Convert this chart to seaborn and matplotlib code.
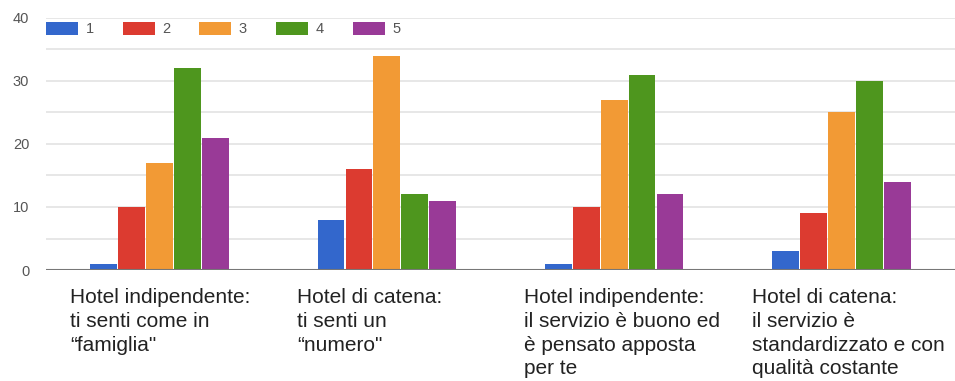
import matplotlib
matplotlib.use("Agg")
import matplotlib.pyplot as plt
import seaborn as sns
import pandas as pd

categories = [
    "Hotel indipendente:\nti senti come in\n\u201cfamiglia\"",
    "Hotel di catena:\nti senti un\n\u201cnumero\"",
    "Hotel indipendente:\nil servizio è buono ed\nè pensato apposta\nper te",
    "Hotel di catena:\nil servizio è\nstandardizzato e con\nqualità costante",
]
ratings = ["1", "2", "3", "4", "5"]
values_1 = [1, 8, 1, 3]
values_2 = [10, 16, 10, 9]
values_3 = [17, 34, 27, 25]
values_4 = [32, 12, 31, 30]
values_5 = [21, 11, 12, 14]
colors = ["#3367CC", "#DC3B30", "#F29A35", "#4E961E", "#993A97"]

rows = []
for r, vals in zip(ratings, [values_1, values_2, values_3, values_4, values_5]):
    for c, v in zip(categories, vals):
        rows.append({"categoria": c, "voto": r, "conteggio": v})
df = pd.DataFrame(rows)

sns.set_theme(style="white")
plt.rcParams["font.family"] = ["Liberation Sans", "DejaVu Sans"]

fig = plt.figure(figsize=(9.55, 3.81), dpi=100)
ax = fig.add_axes([46 / 955, 1 - 270 / 381, 1 - 46 / 955, (270 - 18) / 381])

sns.barplot(data=df, x="categoria", y="conteggio", hue="voto",
            palette=colors, width=0.615, gap=0.04, ax=ax,
            saturation=1, edgecolor="none", linewidth=0)

ax.set_ylim(0, 40)
ax.set_xlim(-0.5, 3.5)
for y in range(5, 41, 5):
    ax.axhline(y, color="#e3e3e3", lw=1.2, zorder=0)
ax.axhline(0, color="#777777", lw=1.5, zorder=3)
ax.set_yticks([0, 10, 20, 30, 40])
ax.set_yticklabels(["0", "10", "20", "30", "40"], fontsize=10.5, color="#555555")
ax.tick_params(axis="y", length=0, pad=12)
ax.set_xticks([])
ax.set_xlabel("")
ax.set_ylabel("")
for s in ax.spines.values():
    s.set_visible(False)

for i, c in enumerate(categories):
    ax.text(i - 0.395, -2.9, c, ha="left", va="top", fontsize=15,
            color="#222222", linespacing=1.31, transform=ax.transData,
            clip_on=False)

handles, labels = ax.get_legend_handles_labels()
ax.legend(handles, labels, loc="upper left", bbox_to_anchor=(-0.004, 1.0),
          ncol=5, frameon=False, fontsize=10.5, handlelength=2.2,
          handleheight=1.0, columnspacing=2.0, handletextpad=0.5,
          labelcolor="#555555", borderpad=0.0, borderaxespad=0.25)

fig.savefig("out.png", dpi=100)
